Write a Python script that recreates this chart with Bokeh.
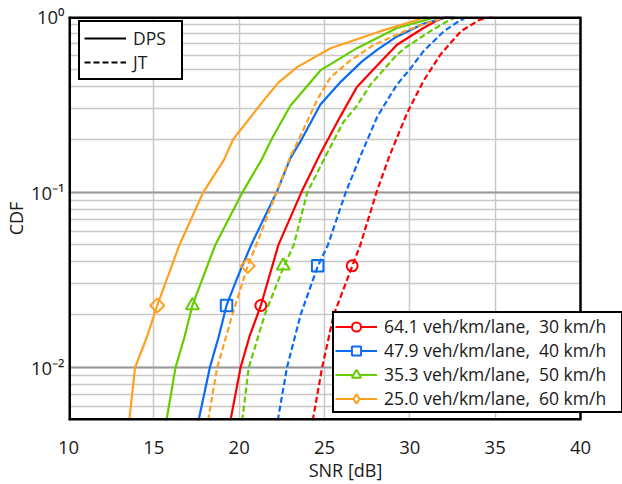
import math
from bokeh.plotting import figure
from bokeh.models import (Legend, LegendItem, FixedTicker, Range1d, CustomJSTickFormatter,
                          LogTicker, BoxAnnotation, Span)
from bokeh.embed import file_html
from bokeh.resources import INLINE

# ---- data ----
x_ticks = [10, 15, 20, 25, 30, 35, 40]
x_min, x_max = 10, 40
y_min, y_max = 0.005, 1

# DPS (solid)
snr_dps_64 = [19.49, 20.08, 20.6, 21.27, 22.3, 23.65, 24.76, 25.93, 26.9, 28.28, 29.25, 30.8, 31.6, 32.2]
cdf_dps_64 = [0.005, 0.01, 0.015, 0.0226, 0.05, 0.1, 0.166, 0.27, 0.397, 0.55, 0.69, 0.86, 0.95, 1.0]

snr_dps_48 = [17.62, 18.28, 18.8, 19.26, 19.84, 20.7, 22.2, 23.0, 23.6, 24.76, 25.9, 27.2, 28.1, 29.25, 30.8, 32.0, 32.6]
cdf_dps_48 = [0.005, 0.01, 0.015, 0.0226, 0.0316, 0.05, 0.1, 0.156, 0.195, 0.315, 0.42, 0.555, 0.647, 0.77, 0.91, 0.98, 1.0]

snr_dps_35 = [15.74, 16.27, 16.8, 17.26, 18.6, 20.2, 21.3, 21.9, 23.0, 24.76, 26.9, 29.25, 31.0, 31.6]
cdf_dps_35 = [0.005, 0.01, 0.015, 0.0226, 0.05, 0.1, 0.152, 0.2, 0.31, 0.493, 0.66, 0.86, 0.96, 1.0]

snr_dps_25 = [13.56, 13.9, 14.6, 15.2, 16.5, 17.9, 19.1, 19.65, 21.44, 22.3, 23.4, 25.35, 28.28, 30.2, 31.0]
cdf_dps_25 = [0.005, 0.01, 0.015, 0.0226, 0.05, 0.1, 0.152, 0.2, 0.333, 0.42, 0.515, 0.66, 0.825, 0.94, 1.0]

# JT (dashed)
snr_jt_64 = [24.31, 24.86, 25.54, 26.62, 27.1, 28.05, 28.8, 29.84, 30.8, 31.8, 33.0, 34.1, 35.0]
cdf_jt_64 = [0.005, 0.01, 0.02, 0.0377, 0.05, 0.1, 0.16, 0.282, 0.43, 0.608, 0.825, 0.96, 1.0]

snr_jt_48 = [22.26, 22.8, 23.6, 24.6, 25.2, 26.25, 27.1, 28.1, 29.25, 30.0, 30.8, 32.0, 32.8, 33.4]
cdf_jt_48 = [0.005, 0.01, 0.02, 0.0377, 0.05, 0.1, 0.16, 0.27, 0.41, 0.5, 0.635, 0.825, 0.93, 1.0]

snr_jt_35 = [20.18, 20.56, 21.5, 22.58, 23.2, 24.0, 25.2, 26.1, 26.9, 27.7, 29.25, 29.84, 31.2, 32.2, 32.8]
cdf_jt_35 = [0.005, 0.01, 0.02, 0.037, 0.05, 0.1, 0.17, 0.25, 0.31, 0.41, 0.608, 0.675, 0.825, 0.94, 1.0]

snr_jt_25 = [18.18, 18.71, 19.6, 20.5, 21.0, 22.2, 23.0, 23.5, 24.6, 25.35, 26.5, 27.9, 29.9, 31.5, 32.3]
cdf_jt_25 = [0.005, 0.01, 0.02, 0.038, 0.05, 0.1, 0.16, 0.2, 0.34, 0.45, 0.56, 0.69, 0.84, 0.95, 1.0]

# marker positions (DPS marker, JT marker) per scenario
marker_snr_64 = [21.27, 26.62]
marker_snr_48 = [19.26, 24.6]
marker_snr_35 = [17.26, 22.58]
marker_snr_25 = [15.2, 20.5]
marker_cdf = [0.0226, 0.038]

labels = ["64.1 veh/km/lane,  30 km/h", "47.9 veh/km/lane,  40 km/h",
          "35.3 veh/km/lane,  50 km/h", "25.0 veh/km/lane,  60 km/h"]
colors = ["#ff0000", "#0a6cf5", "#66cc00", "#ffa020"]
markers = ["circle", "square", "triangle", "square"]
legend_markers = ["circle", "square", "triangle", "diamond"]
marker_sizes = [11, 11.5, 13, 10]
marker_angles = [0, 0, 0, math.pi / 4]

FONT = "Open Sans"
W, H = 622, 484
LEFT, RIGHT_AXIS_PX, TOP, BOTTOM = 68, 580, 16, 63

# the frame extends to the right edge of the page so that the legend may overhang
# the x = 40 border, as in the reference; the extra strip is masked in white
px_per_unit = (RIGHT_AXIS_PX - LEFT) / (x_max - x_min)
x_end = x_max + (W - RIGHT_AXIS_PX) / px_per_unit

p = figure(width=W, height=H, y_axis_type="log",
           x_range=Range1d(x_min, x_end), y_range=Range1d(y_min, y_max),
           output_backend="svg", toolbar_location=None,
           min_border_left=LEFT, min_border_right=0, min_border_top=TOP, min_border_bottom=BOTTOM)

p.outline_line_color = None
p.background_fill_color = "white"
p.border_fill_color = "white"

# axes
p.xaxis.ticker = FixedTicker(ticks=x_ticks)
p.xgrid.ticker = FixedTicker(ticks=x_ticks)
p.yaxis.ticker = LogTicker(num_minor_ticks=10)
p.yaxis.formatter = CustomJSTickFormatter(code="""
const e = Math.round(Math.log10(tick));
const m = {"0":"\u2070","1":"\u00b9","2":"\u00b2","3":"\u00b3","-":"\u207b"};
return "10" + String(e).split("").map(c => m[c]).join("");
""")
for ax in (p.xaxis[0], p.yaxis[0]):
    ax.axis_line_color = None
    ax.major_tick_line_color = None
    ax.minor_tick_line_color = None
    ax.major_tick_out = 0
    ax.major_tick_in = 0
    ax.minor_tick_out = 0
    ax.minor_tick_in = 0
    ax.major_label_text_font = FONT
    ax.major_label_text_font_size = "18.5px"
    ax.major_label_text_color = "#1a1a1a"
    ax.axis_label_text_font = FONT
    ax.axis_label_text_font_size = "18px"
    ax.axis_label_text_font_style = "normal"
    ax.axis_label_text_color = "#1a1a1a"
p.xaxis.axis_label = "SNR [dB]"
p.yaxis.axis_label = "CDF"
p.xaxis.major_label_standoff = 20
p.xaxis.axis_label_standoff = 1
p.yaxis.major_label_standoff = 4
p.yaxis.axis_label_standoff = 0

p.xgrid.grid_line_color = "#c8c8c8"
p.xgrid.grid_line_width = 1.5
p.ygrid.grid_line_color = "#9a9a9a"
p.ygrid.grid_line_width = 2
p.ygrid.minor_grid_line_color = "#c8c8c8"
p.ygrid.minor_grid_line_width = 1.5

dps = [(snr_dps_64, cdf_dps_64), (snr_dps_48, cdf_dps_48), (snr_dps_35, cdf_dps_35), (snr_dps_25, cdf_dps_25)]
jt = [(snr_jt_64, cdf_jt_64), (snr_jt_48, cdf_jt_48), (snr_jt_35, cdf_jt_35), (snr_jt_25, cdf_jt_25)]
msnr = [marker_snr_64, marker_snr_48, marker_snr_35, marker_snr_25]

dps_r = []
for (xs, ys), c in zip(dps, colors):
    dps_r.append(p.line(xs, ys, line_color=c, line_width=2.2))
for (xs, ys), c in zip(jt, colors):
    p.line(xs, ys, line_color=c, line_width=2.2, line_dash="6 3")

nan = float("nan")
mk_leg = []
for xs, c, m, lm, s, a in zip(msnr, colors, markers, legend_markers, marker_sizes, marker_angles):
    p.scatter(xs, marker_cdf, marker=m, size=s, angle=a, line_color=c, line_width=2, fill_color=None)
    # legend version of the marker (white filled; legend draws markers unrotated)
    mk_leg.append(p.scatter([nan], [nan], marker=lm, line_color=c, line_width=2, fill_color="white"))

# frame border (top/bottom at the data limits)
p.segment(x0=[x_min, x_min], x1=[x_max, x_max], y0=[y_min, y_max], y1=[y_min, y_max],
          line_color="black", line_width=5)
# mask the strip right of x = 40
p.add_layout(BoxAnnotation(left=x_max, fill_color="white", fill_alpha=1, line_color=None))
p.add_layout(Span(location=x_min, dimension="height", line_color="black", line_width=5))
p.add_layout(Span(location=x_max, dimension="height", line_color="black", line_width=2.5))

# style legend (DPS / JT)
d1 = p.line([nan], [nan], line_color="black", line_width=2.2)
d2 = p.line([nan], [nan], line_color="black", line_width=2.2, line_dash="6 3")
leg1 = Legend(items=[LegendItem(label="DPS", renderers=[d1]), LegendItem(label="JT", renderers=[d2])],
              location=(10, 340), label_width=44, padding=4, glyph_height=20, spacing=0)
leg2 = Legend(items=[LegendItem(label=l, renderers=[r, m]) for l, r, m in zip(labels, dps_r, mk_leg)],
              location=(264, 7), label_width=236, padding=1, glyph_height=23, spacing=0)
for lg in (leg1, leg2):
    lg.border_line_color = "black"
    lg.border_line_alpha = 1
    lg.border_line_width = 2.5
    lg.background_fill_color = "white"
    lg.background_fill_alpha = 1
    lg.label_text_font = FONT
    lg.label_text_font_size = "17.5px"
    lg.label_text_color = "#1a1a1a"
    lg.glyph_width = 42
    lg.label_height = 20
    lg.margin = 0
    lg.label_standoff = 7
    p.add_layout(lg)

open("out.html", "w").write(file_html(p, INLINE))
